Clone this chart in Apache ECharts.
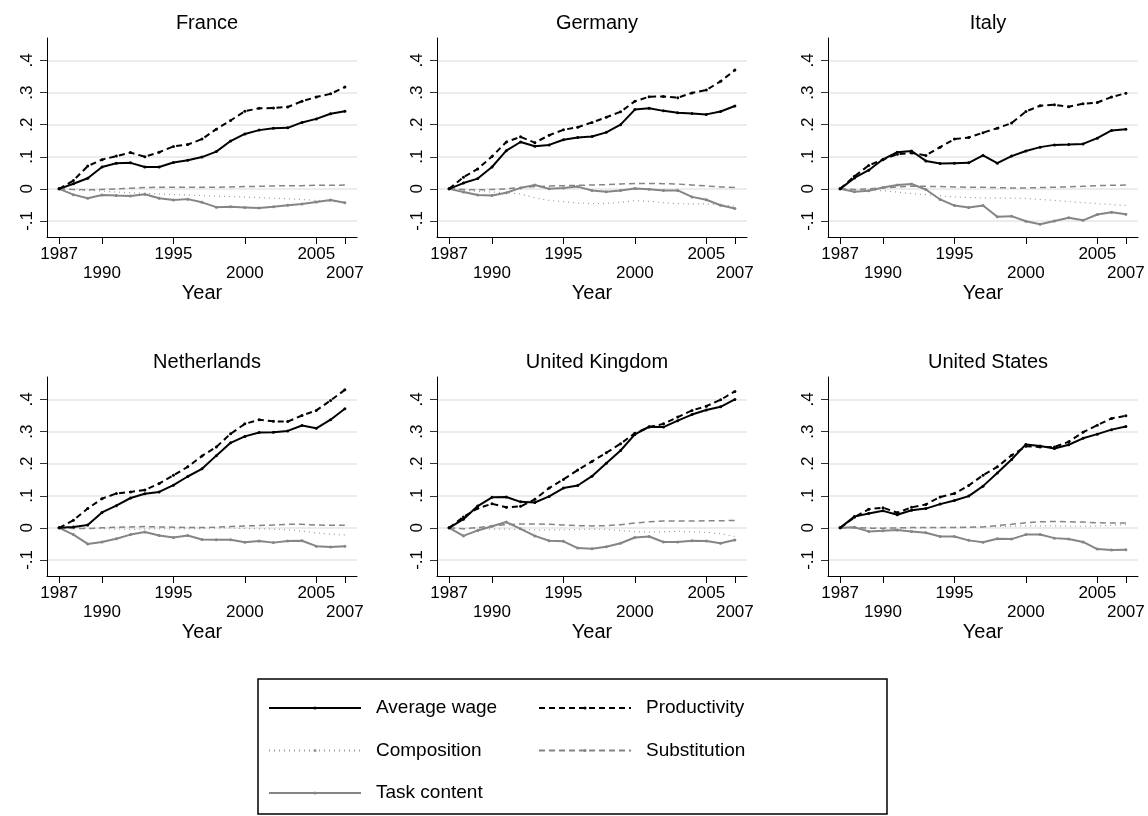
<!DOCTYPE html>
<html>
<head>
<meta charset="utf-8">
<script src="https://cdn.jsdelivr.net/npm/echarts@6/dist/echarts.min.js"></script>
<style>
html,body{margin:0;padding:0;background:#fff;}
#chart{width:1148px;height:816px;}
</style>
</head>
<body>
<div id="chart"></div>
<script>
// ---------- data ----------
var years = [1987,1988,1989,1990,1991,1992,1993,1994,1995,1996,1997,1998,1999,2000,2001,2002,2003,2004,2005,2006,2007];
var xTickValues = [1987,1990,1995,2000,2005,2007];
var xUpperLabels = [1987,1995,2005];
var xLowerLabels = [1990,2000,2007];
var yTickValues = [-0.1,0,0.1,0.2,0.3,0.4];
var yTickLabels = ['-.1','0','.1','.2','.3','.4'];
var countries = ['France','Germany','Italy','Netherlands','United Kingdom','United States'];
var seriesNames = ['Average wage','Productivity','Composition','Substitution','Task content'];

var franceWage  = [0,0.016,0.033,0.068,0.080,0.081,0.068,0.068,0.082,0.089,0.099,0.116,0.149,0.171,0.183,0.189,0.190,0.207,0.218,0.234,0.242];
var franceProd  = [0,0.026,0.071,0.091,0.102,0.113,0.100,0.114,0.132,0.138,0.155,0.186,0.213,0.242,0.251,0.252,0.255,0.273,0.286,0.296,0.317];
var franceComp  = [0,-0.003,-0.005,-0.007,-0.010,-0.012,-0.014,-0.016,-0.018,-0.019,-0.021,-0.023,-0.024,-0.026,-0.027,-0.029,-0.031,-0.033,-0.036,-0.039,-0.042];
var franceSubst = [0,-0.002,-0.003,-0.002,0,0.002,0.004,0.005,0.005,0.005,0.005,0.005,0.006,0.007,0.008,0.009,0.010,0.010,0.011,0.011,0.012];
var franceTask  = [0,-0.018,-0.029,-0.019,-0.021,-0.022,-0.017,-0.029,-0.035,-0.032,-0.042,-0.057,-0.056,-0.058,-0.060,-0.056,-0.051,-0.047,-0.041,-0.035,-0.043];

var germanyWage  = [0,0.018,0.032,0.068,0.119,0.146,0.133,0.137,0.153,0.160,0.163,0.176,0.200,0.247,0.251,0.243,0.237,0.235,0.232,0.241,0.258];
var germanyProd  = [0,0.036,0.062,0.101,0.146,0.162,0.144,0.167,0.184,0.192,0.207,0.223,0.240,0.273,0.287,0.288,0.284,0.299,0.308,0.335,0.370];
var germanyComp  = [0,-0.004,-0.008,-0.010,-0.012,-0.016,-0.028,-0.036,-0.040,-0.044,-0.046,-0.045,-0.042,-0.037,-0.039,-0.043,-0.046,-0.047,-0.047,-0.050,-0.054];
var germanySubst = [0,-0.002,-0.003,-0.002,0,0.004,0.007,0.009,0.010,0.011,0.012,0.013,0.015,0.017,0.017,0.016,0.015,0.012,0.009,0.006,0.004];
var germanyTask  = [0,-0.010,-0.019,-0.021,-0.012,0.003,0.012,0.000,0.003,0.007,-0.005,-0.009,-0.005,0.001,-0.001,-0.005,-0.005,-0.025,-0.034,-0.051,-0.061];

var italyWage  = [0,0.034,0.058,0.092,0.114,0.118,0.087,0.079,0.080,0.081,0.104,0.080,0.102,0.118,0.130,0.137,0.138,0.140,0.158,0.182,0.186];
var italyProd  = [0,0.039,0.073,0.091,0.108,0.112,0.104,0.130,0.155,0.160,0.175,0.189,0.205,0.241,0.259,0.262,0.256,0.265,0.269,0.286,0.298];
var italyComp  = [0,-0.002,-0.004,-0.006,-0.010,-0.015,-0.018,-0.022,-0.025,-0.027,-0.028,-0.029,-0.029,-0.030,-0.033,-0.036,-0.040,-0.043,-0.046,-0.049,-0.052];
var italySubst = [0,-0.002,0,0.003,0.006,0.008,0.008,0.007,0.006,0.005,0.005,0.004,0.003,0.003,0.004,0.005,0.006,0.008,0.010,0.011,0.012];
var italyTask  = [0,-0.009,-0.006,0.004,0.012,0.015,-0.002,-0.033,-0.052,-0.058,-0.052,-0.087,-0.085,-0.101,-0.110,-0.100,-0.090,-0.098,-0.080,-0.073,-0.079];

var netherlandsWage  = [0,0.003,0.009,0.048,0.069,0.093,0.106,0.112,0.133,0.160,0.184,0.225,0.265,0.285,0.297,0.298,0.302,0.319,0.310,0.337,0.371];
var netherlandsProd  = [0,0.024,0.060,0.091,0.107,0.112,0.118,0.138,0.164,0.190,0.224,0.252,0.293,0.324,0.337,0.332,0.331,0.350,0.366,0.397,0.430];
var netherlandsComp  = [0,0,-0.001,-0.002,-0.004,-0.005,-0.004,-0.003,-0.003,-0.003,-0.002,-0.001,0,-0.002,-0.003,-0.004,-0.006,-0.010,-0.016,-0.020,-0.022];
var netherlandsSubst = [0,-0.002,-0.002,0,0.002,0.003,0.004,0.003,0.002,0.001,0.001,0.002,0.004,0.006,0.007,0.009,0.011,0.011,0.009,0.008,0.008];
var netherlandsTask  = [0,-0.021,-0.050,-0.044,-0.034,-0.021,-0.013,-0.024,-0.030,-0.024,-0.036,-0.037,-0.037,-0.045,-0.041,-0.046,-0.041,-0.040,-0.057,-0.060,-0.057];

var ukWage  = [0,0.027,0.068,0.095,0.096,0.081,0.079,0.098,0.124,0.132,0.161,0.201,0.241,0.291,0.315,0.314,0.334,0.353,0.367,0.377,0.400];
var ukProd  = [0,0.034,0.061,0.075,0.064,0.067,0.089,0.124,0.151,0.180,0.207,0.234,0.262,0.295,0.314,0.324,0.345,0.366,0.379,0.399,0.425];
var ukComp  = [0,-0.002,-0.003,-0.004,-0.004,-0.005,-0.006,-0.006,-0.006,-0.005,-0.004,-0.005,-0.008,-0.012,-0.013,-0.012,-0.011,-0.012,-0.014,-0.018,-0.027];
var ukSubst = [0,-0.003,0.001,0.006,0.010,0.012,0.012,0.011,0.009,0.007,0.006,0.007,0.010,0.015,0.019,0.021,0.021,0.021,0.022,0.022,0.023];
var ukTask  = [0,-0.025,-0.008,0.005,0.018,-0.003,-0.025,-0.040,-0.042,-0.063,-0.065,-0.059,-0.048,-0.030,-0.027,-0.044,-0.044,-0.040,-0.041,-0.048,-0.038];

var usWage  = [0,0.035,0.045,0.053,0.041,0.055,0.060,0.074,0.085,0.099,0.130,0.171,0.213,0.260,0.255,0.247,0.259,0.279,0.292,0.306,0.316];
var usProd  = [0,0.033,0.058,0.063,0.047,0.064,0.073,0.096,0.107,0.132,0.164,0.190,0.226,0.254,0.252,0.252,0.268,0.298,0.320,0.341,0.349];
var usComp  = [0,0.001,0.001,0,-0.001,-0.001,0,0.001,0.002,0.002,0.003,0.004,0.005,0.006,0.006,0.006,0.005,0.005,0.006,0.008,0.010];
var usSubst = [0,0.001,-0.001,-0.001,0,0.001,0.001,0.001,0.001,0.002,0.003,0.007,0.011,0.016,0.019,0.020,0.019,0.018,0.016,0.015,0.015];
var usTask  = [0,0.002,-0.011,-0.009,-0.007,-0.011,-0.015,-0.027,-0.027,-0.039,-0.045,-0.034,-0.035,-0.021,-0.021,-0.032,-0.035,-0.044,-0.066,-0.069,-0.068];

var panelData = [
  [franceWage, franceProd, franceComp, franceSubst, franceTask],
  [germanyWage, germanyProd, germanyComp, germanySubst, germanyTask],
  [italyWage, italyProd, italyComp, italySubst, italyTask],
  [netherlandsWage, netherlandsProd, netherlandsComp, netherlandsSubst, netherlandsTask],
  [ukWage, ukProd, ukComp, ukSubst, ukTask],
  [usWage, usProd, usComp, usSubst, usTask]
];

// ---------- styles ----------
var FONT = 'Liberation Sans, Arial, Helvetica, sans-serif';
var seriesStyles = [
  {color:'#000000', width:2,   type:'solid',  symbol:'circle', z:6},
  {color:'#000000', width:2,   type:[6,4],    symbol:'circle', z:5},
  {color:'#9a9a9a', width:1.2, type:[1,4],    symbol:'none',   z:3},
  {color:'#858585', width:1.5, type:[6,4],    symbol:'none',   z:3},
  {color:'#858585', width:2,   type:'solid',  symbol:'circle', z:4}
];

var colLeft = [47, 437, 828];
var rowTop = [38, 377];
var gridW = 310, gridH = 199;
var X_MIN = 1986.15, X_MAX = 2007.85;

var grids = [], xAxes = [], yAxes = [], series = [], titles = [];
for (var p = 0; p < 6; p++) {
  var r = Math.floor(p / 3), c = p % 3;
  grids.push({left: colLeft[c], top: rowTop[r], width: gridW, height: gridH});
  titles.push({
    text: countries[p], left: colLeft[c] + gridW / 2, top: rowTop[r] - 30, textAlign: 'center',
    textStyle: {fontFamily: FONT, fontSize: 20, fontWeight: 'normal', color: '#000'}
  });
  // main x axis: line, ticks, upper labels, title
  xAxes.push({
    type: 'value', gridIndex: p, position: 'bottom', min: X_MIN, max: X_MAX,
    name: 'Year', nameLocation: 'middle', nameGap: 46,
    nameTextStyle: {fontFamily: FONT, fontSize: 20, color: '#000'},
    axisLine: {show: true, onZero: false, lineStyle: {color: '#000', width: 1}},
    axisTick: {show: true, length: 7, customValues: xTickValues, lineStyle: {color: '#000', width: 1}},
    axisLabel: {
      customValues: xUpperLabels, margin: 9, fontFamily: FONT, fontSize: 17, color: '#000',
      showMinLabel: true, showMaxLabel: true,
      formatter: function (v) { return String(Math.round(v)); }
    },
    splitLine: {show: false}
  });
  // secondary x axis: lower (staggered) labels only
  xAxes.push({
    type: 'value', gridIndex: p, position: 'bottom', min: X_MIN, max: X_MAX,
    axisLine: {show: false, onZero: false},
    axisTick: {show: false},
    axisLabel: {
      customValues: xLowerLabels, margin: 28, fontFamily: FONT, fontSize: 17, color: '#000',
      showMinLabel: true, showMaxLabel: true,
      formatter: function (v) { return String(Math.round(v)); }
    },
    splitLine: {show: false}
  });
  yAxes.push({
    type: 'value', gridIndex: p, min: -0.15, max: 0.47,
    axisLine: {show: true, onZero: false, lineStyle: {color: '#000', width: 1}},
    axisTick: {show: true, length: 7, customValues: yTickValues, lineStyle: {color: '#333', width: 1}},
    axisLabel: {
      customValues: yTickValues, rotate: 90, margin: 11, fontFamily: FONT, fontSize: 17, color: '#000',
      showMinLabel: true, showMaxLabel: true,
      formatter: function (v) {
        var i = -1;
        for (var k = 0; k < yTickValues.length; k++) { if (Math.abs(yTickValues[k] - v) < 1e-6) i = k; }
        return i >= 0 ? yTickLabels[i] : '';
      }
    },
    splitLine: {show: true, lineStyle: {color: '#e6e6e6', width: 1.5}}
  });
  for (var s = 0; s < 5; s++) {
    var st = seriesStyles[s];
    var arr = panelData[p][s];
    series.push({
      name: seriesNames[s], type: 'line', xAxisIndex: 2 * p, yAxisIndex: p,
      data: years.map(function (y, i) { return [y, arr[i]]; }),
      symbol: st.symbol, symbolSize: 3, showSymbol: st.symbol !== 'none',
      itemStyle: {color: st.color},
      lineStyle: {color: st.color, width: st.width, type: st.type},
      z: st.z, silent: true
    });
  }
}

var legendText = {fontFamily: FONT, fontSize: 19, color: '#000', lineHeight: 22, padding: [0, 0, 0, 10]};
var option = {
  animation: false,
  backgroundColor: '#ffffff',
  title: titles,
  grid: grids,
  xAxis: xAxes,
  yAxis: yAxes,
  series: series,
  legend: [
    {orient: 'vertical', left: 268, top: 697, padding: 0, itemGap: 20.5, itemWidth: 92, itemHeight: 4,
     data: ['Average wage', 'Composition', 'Task content'], textStyle: legendText, selectedMode: false},
    {orient: 'vertical', left: 538, top: 697, padding: 0, itemGap: 20.5, itemWidth: 92, itemHeight: 4,
     data: ['Productivity', 'Substitution'], textStyle: legendText, selectedMode: false}
  ],
  graphic: [
    {type: 'rect', shape: {x: 258, y: 679, width: 629, height: 135}, style: {fill: 'none', stroke: '#000', lineWidth: 1.5}, silent: true}
  ]
};

var chart = echarts.init(document.getElementById('chart'), null, {renderer: 'canvas'});
chart.setOption(option);
</script>
</body>
</html>
